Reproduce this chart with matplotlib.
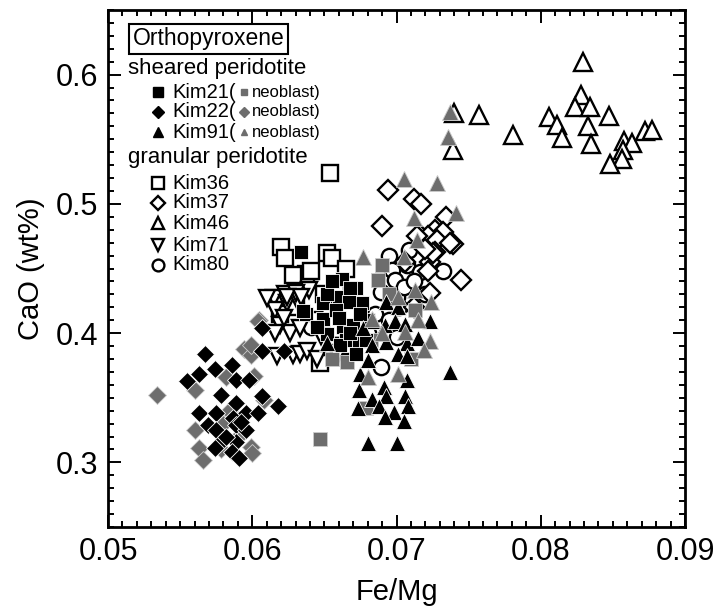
import numpy as np
import matplotlib.pyplot as plt
from matplotlib.ticker import MultipleLocator

plt.rcParams['font.family'] = ['Liberation Sans', 'DejaVu Sans']

# granular peridotite (open symbols)
kim36_x = [0.0654, 0.0620, 0.0623, 0.0637, 0.0641, 0.0652, 0.0655, 0.0619, 0.0647, 0.0630,
           0.0658, 0.0665, 0.0628, 0.0650, 0.0660, 0.0668]
kim36_y = [0.524, 0.467, 0.458, 0.446, 0.448, 0.462, 0.458, 0.415, 0.377, 0.420,
           0.435, 0.450, 0.445, 0.430, 0.390, 0.390]

kim37_x = [0.0694, 0.0690, 0.0712, 0.0717, 0.0734, 0.0727, 0.0732, 0.0716, 0.0722, 0.0739,
           0.0728, 0.0727, 0.0723, 0.0722, 0.0745, 0.0723, 0.0714, 0.0725, 0.0737, 0.0720,
           0.0712, 0.0706]
kim37_y = [0.511, 0.483, 0.504, 0.500, 0.490, 0.480, 0.478, 0.476, 0.475, 0.469,
           0.472, 0.463, 0.455, 0.448, 0.441, 0.431, 0.475, 0.462, 0.470, 0.465,
           0.420, 0.455]

kim46_x = [0.0829, 0.0828, 0.0824, 0.0834, 0.0806, 0.0811, 0.0815, 0.0833, 0.0835, 0.0847,
           0.0858, 0.0863, 0.0857, 0.0856, 0.0848, 0.0872, 0.0877, 0.0781, 0.0757, 0.0739,
           0.0740]
kim46_y = [0.610, 0.584, 0.575, 0.575, 0.567, 0.561, 0.551, 0.560, 0.546, 0.568,
           0.549, 0.547, 0.542, 0.535, 0.531, 0.556, 0.557, 0.553, 0.569, 0.542,
           0.570]

kim71_x = [0.0615, 0.0639, 0.0624, 0.0616, 0.0619, 0.0616, 0.0626, 0.0617, 0.0628, 0.0633,
           0.0638, 0.0645, 0.0633, 0.0632, 0.0623, 0.0630, 0.0643, 0.0648, 0.0622, 0.0610,
           0.0655, 0.0660, 0.0624, 0.0634]
kim71_y = [0.427, 0.433, 0.423, 0.418, 0.406, 0.400, 0.400, 0.382, 0.383, 0.384,
           0.386, 0.380, 0.404, 0.424, 0.430, 0.431, 0.410, 0.398, 0.412, 0.427,
           0.390, 0.385, 0.428, 0.428]

kim80_x = [0.0695, 0.0709, 0.0707, 0.0697, 0.0732, 0.0716, 0.0689, 0.0700, 0.0689, 0.0641,
           0.0700, 0.0699, 0.0705, 0.0702, 0.0685, 0.0712, 0.0680, 0.0695, 0.0720]
kim80_y = [0.460, 0.464, 0.453, 0.449, 0.448, 0.447, 0.432, 0.428, 0.374, 0.405,
           0.397, 0.441, 0.436, 0.420, 0.415, 0.440, 0.400, 0.410, 0.430]

# sheared peridotite (filled black) and neoblasts (grey)
kim21_x = [0.0634, 0.0662, 0.0672, 0.0653, 0.0660, 0.0676, 0.0667, 0.0649, 0.0637, 0.0649,
           0.0663, 0.0670, 0.0652, 0.0665, 0.0674, 0.0679, 0.0672, 0.0661, 0.0635, 0.0652,
           0.0668, 0.0658, 0.0645, 0.0680, 0.0675, 0.0655, 0.0668, 0.0660]
kim21_y = [0.463, 0.442, 0.435, 0.428, 0.428, 0.423, 0.424, 0.423, 0.415, 0.411,
           0.405, 0.406, 0.399, 0.395, 0.394, 0.395, 0.384, 0.391, 0.417, 0.430,
           0.435, 0.418, 0.405, 0.410, 0.415, 0.440, 0.400, 0.412]
kim21n_x = [0.0647, 0.0690, 0.0687, 0.0713, 0.0679, 0.0666, 0.0655, 0.0710, 0.0695, 0.0682]
kim21n_y = [0.318, 0.453, 0.441, 0.418, 0.342, 0.378, 0.380, 0.380, 0.430, 0.395]

kim22_x = [0.0567, 0.0555, 0.0563, 0.0574, 0.0586, 0.0589, 0.0598, 0.0578, 0.0589, 0.0607,
           0.0618, 0.0563, 0.0575, 0.0569, 0.0596, 0.0604, 0.0575, 0.0587, 0.0589, 0.0596,
           0.0580, 0.0589, 0.0574, 0.0586, 0.0591, 0.0607, 0.0607, 0.0622, 0.0582, 0.0592]
kim22_y = [0.384, 0.363, 0.368, 0.372, 0.375, 0.364, 0.364, 0.352, 0.346, 0.351,
           0.344, 0.338, 0.338, 0.329, 0.338, 0.338, 0.325, 0.334, 0.329, 0.325,
           0.317, 0.316, 0.311, 0.308, 0.303, 0.404, 0.386, 0.386, 0.320, 0.331]
kim22n_x = [0.0534, 0.0560, 0.0560, 0.0563, 0.0566, 0.0594, 0.0599, 0.0582, 0.0601, 0.0605,
            0.0608, 0.0592, 0.0599, 0.0600, 0.0578, 0.0599, 0.0604, 0.0584, 0.0580]
kim22n_y = [0.352, 0.356, 0.325, 0.311, 0.302, 0.388, 0.383, 0.366, 0.367, 0.410,
            0.348, 0.322, 0.312, 0.307, 0.310, 0.391, 0.409, 0.340, 0.330]

kim91_x = [0.0737, 0.0680, 0.0700, 0.0674, 0.0691, 0.0707, 0.0683, 0.0693, 0.0706, 0.0673,
           0.0688, 0.0698, 0.0708, 0.0692, 0.0705, 0.0675, 0.0693, 0.0701, 0.0723, 0.0684,
           0.0692, 0.0699, 0.0706, 0.0677, 0.0652, 0.0683, 0.0693, 0.0707, 0.0715, 0.0701,
           0.0707, 0.0680]
kim91_y = [0.370, 0.315, 0.315, 0.356, 0.358, 0.364, 0.349, 0.351, 0.351, 0.342,
           0.344, 0.339, 0.344, 0.335, 0.332, 0.368, 0.424, 0.420, 0.409, 0.409,
           0.406, 0.409, 0.407, 0.404, 0.392, 0.391, 0.393, 0.392, 0.396, 0.384,
           0.382, 0.379]
kim91n_x = [0.0705, 0.0728, 0.0741, 0.0712, 0.0714, 0.0677, 0.0705, 0.0701, 0.0713, 0.0724,
            0.0683, 0.0723, 0.0719, 0.0706, 0.0701, 0.0680, 0.0737, 0.0736, 0.0690, 0.0715]
kim91n_y = [0.519, 0.516, 0.493, 0.489, 0.472, 0.459, 0.459, 0.428, 0.433, 0.424,
            0.411, 0.394, 0.387, 0.401, 0.368, 0.366, 0.571, 0.552, 0.400, 0.410]

grey = '#6d6d6d'

fig = plt.figure(figsize=(7.15, 6.12), dpi=100)
ax = fig.add_axes([108/715, 85/612, 577/715, 517/612])

open_kw = dict(linestyle='none', markerfacecolor='white', markeredgecolor='black', markeredgewidth=1.7)
ax.plot(kim80_x, kim80_y, marker='o', markersize=11, **open_kw)
ax.plot(kim36_x, kim36_y, marker='s', markersize=11, **open_kw)
ax.plot(kim71_x, kim71_y, marker='v', markersize=12, **open_kw)
ax.plot(kim37_x, kim37_y, marker='D', markersize=10, **open_kw)
ax.plot(kim46_x, kim46_y, marker='^', markersize=13, **open_kw)

grey_kw = dict(linestyle='none', color=grey, markeredgecolor='#cccccc', markeredgewidth=0.6)
ax.plot(kim21n_x, kim21n_y, marker='s', markersize=10.5, **grey_kw)
ax.plot(kim22n_x, kim22n_y, marker='D', markersize=9, **grey_kw)

black_kw = dict(linestyle='none', color='black', markeredgecolor='white', markeredgewidth=0.6)
ax.plot(kim21_x, kim21_y, marker='s', markersize=10.5, **black_kw)
ax.plot(kim22_x, kim22_y, marker='D', markersize=9, **black_kw)
ax.plot(kim91_x, kim91_y, marker='^', markersize=11, **black_kw)
ax.plot(kim91n_x, kim91n_y, marker='^', markersize=11, **grey_kw)

ax.set_xlim(0.05, 0.09)
ax.set_ylim(0.25, 0.65)
ax.set_xticks([0.05, 0.06, 0.07, 0.08, 0.09])
ax.set_yticks([0.3, 0.4, 0.5, 0.6])
ax.xaxis.set_minor_locator(MultipleLocator(0.001))
ax.yaxis.set_minor_locator(MultipleLocator(0.01))
ax.tick_params(which='both', direction='in', top=True, right=True, width=1.4, labelsize=22)
ax.tick_params(which='major', length=9, pad=7)
ax.tick_params(which='minor', length=4.5)
for s in ax.spines.values():
    s.set_linewidth(2)
ax.set_xlabel('Fe/Mg', fontsize=21, labelpad=8)
ax.set_ylabel('CaO (wt%)', fontsize=21, labelpad=8)

# legend drawn by hand
T = ax.transAxes
ax.text(0.043, 0.944, 'Orthopyroxene', transform=T, fontsize=16.5, va='center', ha='left',
        bbox=dict(boxstyle='square,pad=0.15', facecolor='white', edgecolor='black', linewidth=1.5))
ax.text(0.035, 0.886, 'sheared peridotite', transform=T, fontsize=16, va='center')
ax.text(0.035, 0.714, 'granular peridotite', transform=T, fontsize=16, va='center')

rows = [('s', 'Kim21', 0.841), ('D', 'Kim22', 0.803), ('^', 'Kim91', 0.764)]
for m, name, yy in rows:
    ax.plot([0.087], [yy], marker=m, markersize=6.5, color='black', transform=T, linestyle='none')
    ax.text(0.112, yy, name + '(', transform=T, fontsize=14.5, va='center')
    ax.plot([0.236], [yy], marker=m, markersize=5, color=grey, transform=T, linestyle='none')
    ax.text(0.250, yy, 'neoblast)', transform=T, fontsize=12, va='center')

rows2 = [('s', 'Kim36', 0.665), ('D', 'Kim37', 0.627), ('^', 'Kim46', 0.588),
         ('v', 'Kim71', 0.545), ('o', 'Kim80', 0.507)]
for m, name, yy in rows2:
    ms = 7 if m == 'D' else 8.5
    ax.plot([0.087], [yy], marker=m, markersize=ms, transform=T, **open_kw)
    ax.text(0.112, yy, name, transform=T, fontsize=14.5, va='center')

fig.savefig('out.png', dpi=100)
